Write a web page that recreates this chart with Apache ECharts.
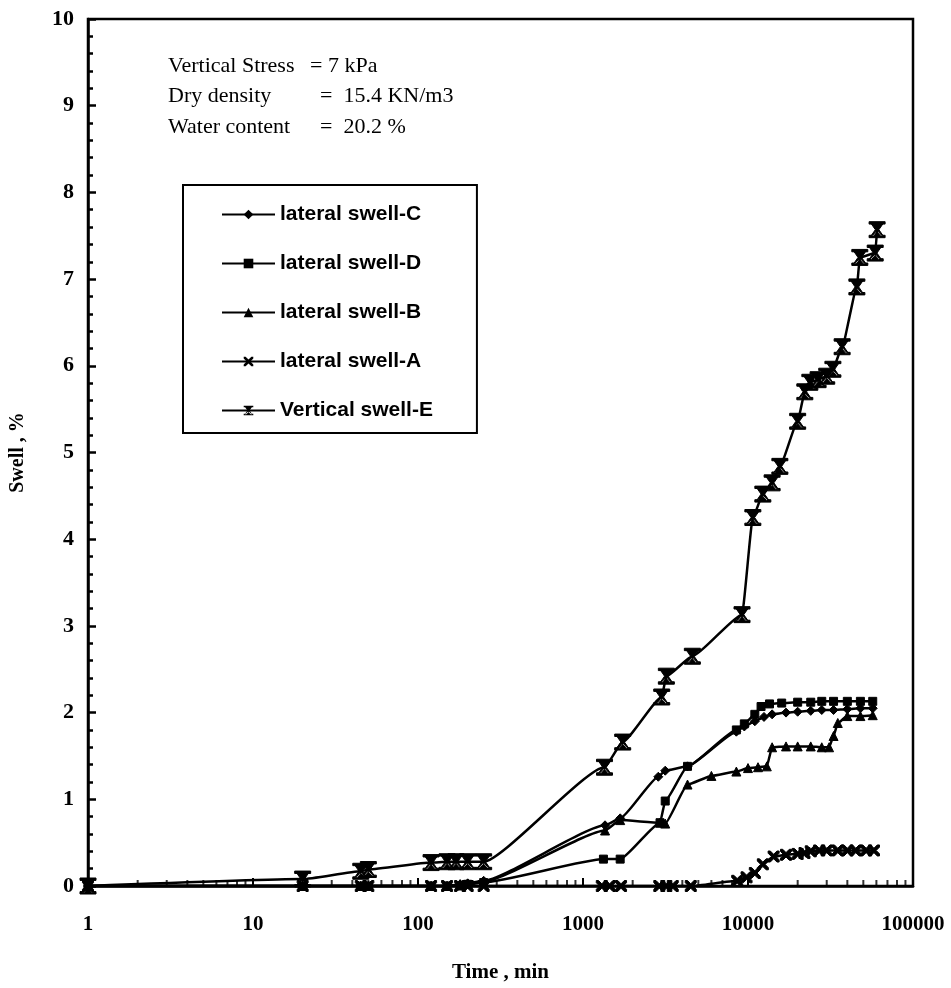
<!DOCTYPE html>
<html>
<head>
<meta charset="utf-8">
<script src="https://cdn.jsdelivr.net/npm/echarts@6/dist/echarts.min.js"></script>
<style>
  html, body { margin: 0; background: #fff; }
  #chart { width: 951px; height: 988px; }
</style>
</head>
<body>
<div id="chart"></div>
<script>
// [time in min, swell in %]
const swellC = [
  [1, 0], [20, 0], [45, 0], [50, 0], [120, 0], [150, 0], [180, 0.02], [200, 0.03], [250, 0.06],
  [1360, 0.7], [1680, 0.78], [2860, 1.26], [3150, 1.33], [4300, 1.38], [8500, 1.78], [9500, 1.84],
  [11000, 1.9], [12500, 1.95], [14000, 1.98], [17000, 2.0], [20000, 2.01], [24000, 2.02],
  [28000, 2.03], [33000, 2.03], [40000, 2.04], [48000, 2.05], [57000, 2.05]
];
const swellD = [
  [1, 0], [20, 0], [45, 0], [50, 0], [120, 0], [150, 0], [180, 0], [200, 0.02], [250, 0.04],
  [1330, 0.31], [1680, 0.31], [2930, 0.73], [3150, 0.98], [4300, 1.38], [8500, 1.8], [9500, 1.87],
  [11000, 1.98], [12000, 2.07], [13500, 2.1], [16000, 2.11], [20000, 2.12], [24000, 2.12],
  [28000, 2.13], [33000, 2.13], [40000, 2.13], [48000, 2.13], [57000, 2.13]
];
const swellB = [
  [1, 0], [20, 0], [45, 0], [50, 0], [120, 0], [150, 0], [180, 0.02], [200, 0.03], [250, 0.05],
  [1360, 0.64], [1680, 0.76], [2930, 0.73], [3150, 0.72], [4300, 1.17], [6000, 1.27], [8500, 1.32],
  [10000, 1.36], [11500, 1.37], [13000, 1.38], [14000, 1.6], [17000, 1.61], [20000, 1.61],
  [24000, 1.61], [28000, 1.6], [31000, 1.6], [33000, 1.73], [35000, 1.88], [40000, 1.96],
  [48000, 1.96], [57000, 1.97]
];
const swellA = [
  [1, 0], [20, 0], [45, 0], [50, 0], [120, 0], [150, 0], [180, 0], [200, 0], [250, 0],
  [1300, 0], [1450, 0], [1700, 0], [2900, 0], [3200, 0], [3500, 0], [4500, 0], [8600, 0.06],
  [9800, 0.1], [11000, 0.15], [12300, 0.25], [14300, 0.34], [17000, 0.36], [20000, 0.37],
  [22000, 0.38], [24000, 0.4], [27000, 0.41], [30000, 0.41], [35000, 0.41], [40000, 0.41],
  [45000, 0.41], [52000, 0.41], [58000, 0.41]
];
const swellE = [
  [1, 0], [20, 0.08], [45, 0.17], [50, 0.19], [120, 0.27], [150, 0.28], [170, 0.28], [200, 0.28],
  [250, 0.28], [1350, 1.37], [1740, 1.66], [3000, 2.18], [3200, 2.42], [4600, 2.65], [9200, 3.13],
  [10700, 4.25], [12300, 4.52], [14000, 4.65], [15600, 4.84], [20000, 5.36], [22100, 5.70],
  [23700, 5.81], [26600, 5.84], [30000, 5.88], [32700, 5.96], [37200, 6.22], [45700, 6.91],
  [47600, 7.25], [59000, 7.30], [60600, 7.57]
];

const seriesNames = ["lateral swell-C", "lateral swell-D", "lateral swell-B", "lateral swell-A", "Vertical swell-E"];
const xTickLabels = ["1", "10", "100", "1000", "10000", "100000"];
const noteLabels = ["Vertical Stress", "Dry density", "Water content"];
const noteValues = ["= 7 kPa", "=  15.4 KN/m3", "=  20.2 %"];

// log minor ticks 2..9 in each decade
const xMinorTicks = [];
for (let d = 0; d < 5; d++) {
  for (let k = 2; k <= 9; k++) xMinorTicks.push([k * Math.pow(10, d), 0]);
}

const crossPath = "path://M0,0L4,0L10,6L16,0L20,0L20,4L14,10L20,16L20,20L16,20L10,14L4,20L0,20L0,16L6,10L0,4Z";
const barCrossPath = "path://M1,0L19,0L19,3L15,3L11,8L10,7L9,8L5,3L1,3ZM1,20L19,20L19,17L15,17L11,12L10,13L9,12L5,17L1,17ZM3,2L6,2L10,7L14,2L17,2L12,10L17,18L14,18L10,13L6,18L3,18L8,10Z";

const serif = "'Liberation Serif', 'DejaVu Serif', serif";
const sans = "'Liberation Sans', Arial, sans-serif";

function lineSeries(name, data, symbol, size) {
  return {
    name: name,
    type: "line",
    data: data,
    smooth: 0.15,
    smoothMonotone: "x",
    symbol: symbol,
    symbolSize: size,
    showAllSymbol: true,
    lineStyle: { color: "#000", width: 2.5 },
    itemStyle: { color: "#000", borderColor: "#000" },
    z: 3
  };
}

const chart = echarts.init(document.getElementById("chart"));

chart.setOption({
  backgroundColor: "#fff",
  animation: false,
  grid: {
    left: 88, right: 38, top: 19, bottom: 101,
    show: true, borderColor: "#000", borderWidth: 2.5
  },
  legend: {
    data: seriesNames,
    orient: "vertical",
    left: 183,
    top: 185,
    itemWidth: 53,
    itemHeight: 12,
    itemGap: 28,
    padding: [19, 44, 12, 38],
    borderColor: "#000",
    borderWidth: 2,
    textStyle: { fontFamily: sans, fontWeight: "bold", fontSize: 21, color: "#000" }
  },
  xAxis: {
    type: "log",
    logBase: 10,
    min: 1,
    max: 100000,
    name: "Time , min",
    nameLocation: "middle",
    nameGap: 76,
    nameTextStyle: { fontFamily: serif, fontWeight: "bold", fontSize: 21, color: "#000" },
    axisLine: { lineStyle: { color: "#000", width: 2.5 } },
    axisTick: { inside: true, length: 8, lineStyle: { color: "#000", width: 2 } },
    axisLabel: {
      margin: 28,
      fontFamily: serif, fontWeight: "bold", fontSize: 21, color: "#000",
      formatter: function (v) {
        const i = Math.round(Math.log10(v));
        return xTickLabels[i] !== undefined ? xTickLabels[i] : "";
      }
    },
    splitLine: { show: false }
  },
  yAxis: {
    type: "value",
    min: 0,
    max: 10,
    interval: 1,
    name: "Swell , %",
    nameLocation: "middle",
    nameGap: 60,
    nameTextStyle: { fontFamily: serif, fontWeight: "bold", fontSize: 20, color: "#000" },
    axisLine: { lineStyle: { color: "#000", width: 2.5 } },
    axisTick: { inside: true, length: 8, lineStyle: { color: "#000", width: 2.5 } },
    minorTick: { show: true, splitNumber: 5, length: 5, lineStyle: { color: "#000", width: 2.5 } },
    axisLabel: { margin: 14, fontFamily: serif, fontWeight: "bold", fontSize: 22, color: "#000" },
    splitLine: { show: false }
  },
  graphic: [
    {
      type: "group",
      left: 168,
      top: 55,
      children: noteLabels.map(function (t, i) {
        return { type: "text", x: 0, y: i * 30.5, style: { text: t, font: "22px " + serif, fill: "#000" } };
      }).concat(noteValues.map(function (t, i) {
        return { type: "text", x: i === 0 ? 142 : 152, y: i * 30.5, style: { text: t, font: "22px " + serif, fill: "#000" } };
      }))
    }
  ],
  series: [
    lineSeries(seriesNames[0], swellC, "diamond", 9),
    lineSeries(seriesNames[1], swellD, "rect", 8),
    lineSeries(seriesNames[2], swellB, "triangle", 9),
    lineSeries(seriesNames[3], swellA, crossPath, 11),
    lineSeries(seriesNames[4], swellE, barCrossPath, 16),
    {
      name: "minor ticks",
      type: "scatter",
      data: xMinorTicks,
      symbol: "rect",
      symbolSize: [2, 6],
      symbolOffset: [0, -3],
      itemStyle: { color: "#000" },
      silent: true,
      z: 2
    }
  ]
});
</script>
</body>
</html>
